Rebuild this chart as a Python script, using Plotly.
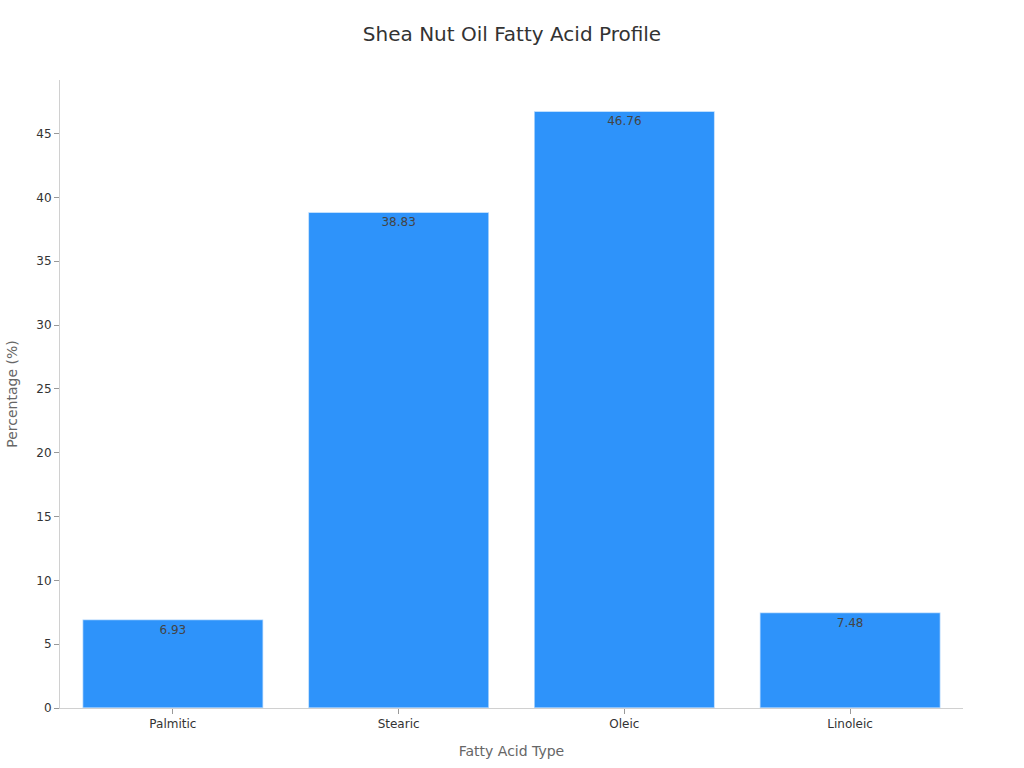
import plotly.graph_objects as go

# Fatty acid composition of shea nut oil (%)
acids = ["Palmitic", "Stearic", "Oleic", "Linoleic"]
percent = [6.93, 38.83, 46.76, 7.48]

fig = go.Figure()

fig.add_trace(go.Bar(
    x=acids,
    y=percent,
    text=[f"{v:.2f}" for v in percent],
    textposition="inside",
    insidetextanchor="end",
    textfont=dict(color="#444444", size=12),
    marker=dict(color="#2E93FA", line=dict(color="rgba(255,255,255,0.6)", width=1.5)),
))

fig.update_layout(
    title=dict(text="Shea Nut Oil Fatty Acid Profile", x=0.5, y=0.965,
               font=dict(size=20, color="#333333")),
    font=dict(family="DejaVu Sans", size=12, color="#333333"),
    plot_bgcolor="white",
    paper_bgcolor="white",
    width=1024, height=768,
    margin=dict(l=60, r=61, t=80, b=60),
    bargap=0.2,
    showlegend=False,
    xaxis=dict(
        title=dict(text="Fatty Acid Type", font=dict(size=14, color="#666666")),
        showline=True, linecolor="#d0d0d0", linewidth=1,
        ticks="outside", tickcolor="#999999", ticklen=5,
        showgrid=False,
    ),
    yaxis=dict(
        title=dict(text="Percentage (%)", font=dict(size=14, color="#666666")),
        range=[0, 49.2], dtick=5,
        showline=True, linecolor="#d0d0d0", linewidth=1,
        ticks="outside", tickcolor="#999999", ticklen=5,
        showgrid=False, zeroline=False,
    ),
)

# drop the default page margin so the figure sits at the window's corner
fig.write_html("out.html", config={"displayModeBar": False},
               post_script="document.body.style.margin='0';")
